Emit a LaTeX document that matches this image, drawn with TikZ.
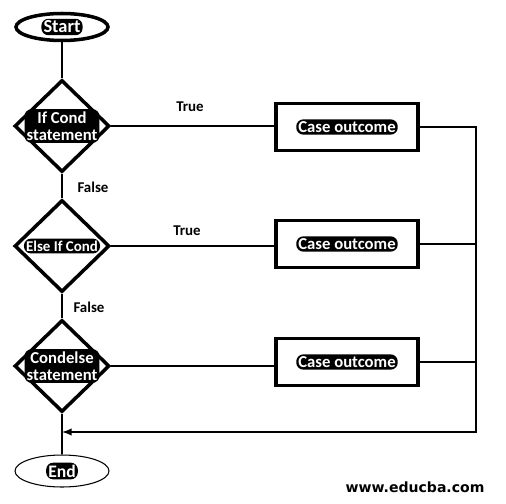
\documentclass[tikz,border=0pt]{standalone}
\usepackage{fontspec}
\setmainfont{Carlito}
\newfontfamily\wmfont{DejaVu Sans}
\usetikzlibrary{shapes.geometric}

\begin{document}
\begin{tikzpicture}[x=0.02cm,y=-0.02cm,
  decision/.style={diamond,draw,line width=2pt,inner sep=0pt,minimum width=1.9cm,minimum height=1.84cm},
  outcome/.style={rectangle,draw,line width=2pt,minimum width=2.84cm,minimum height=0.94cm},
  pill/.style={fill=black,text=white,rounded corners=4pt,inner sep=1.2pt,align=center,font=\fontsize{9.5}{10}\selectfont\bfseries},
  tag/.style={font=\fontsize{8.5}{10}\selectfont\bfseries},
  link/.style={line width=0.9pt}]
\useasboundingbox (0,0) rectangle (506,503);

\node[ellipse,draw,line width=2pt,minimum width=1.84cm,minimum height=0.54cm] (start) at (62,27) {};
\node[pill,font=\fontsize{10.5}{11}\selectfont\bfseries] (startt) at (start) {Start};
\node[decision] (d1) at (62,126) {};
\node[pill] (d1t) at (d1) {If Cond\\statement};
\node[decision] (d2) at (62,246) {};
\node[pill,font=\fontsize{8.5}{9}\selectfont\bfseries] (d2t) at (d2) {Else If Cond};
\node[decision] (d3) at (62,366) {};
\node[pill] (d3t) at (d3) {Condelse\\statement};
\node[ellipse,draw,line width=0.6pt,minimum width=1.88cm,minimum height=0.64cm] (end) at (62,471) {};
\node[pill,font=\fontsize{10}{11}\selectfont\bfseries] (endt) at (end) {End};

\node[outcome] (c1) at (347,127) {};
\node[pill] (c1t) at (c1) {Case outcome};
\node[outcome] (c2) at (347,244) {};
\node[pill] (c2t) at (c2) {Case outcome};
\node[outcome] (c3) at (347,362) {};
\node[pill] (c3t) at (c3) {Case outcome};

\node[tag] (t1) at (190,107) {True};
\node[tag] (t2) at (187,231) {True};
\node[tag] (f1) at (93,187) {False};
\node[tag] (f2) at (89,307) {False};
\node[font=\wmfont\fontsize{8}{9}\selectfont\bfseries] (wm) at (415,487) {www.educba.com};

\coordinate (merge) at (62,432);
\coordinate (rail) at (476,432);

\draw[link] (start)--(d1)--(d2)--(d3)--(end);
\draw[link] (d1.east)--(d1.east -| c1.west);
\draw[link] (d2.east)--(d2.east -| c2.west);
\draw[link] (d3.east)--(d3.east -| c3.west);
\draw[link,-latex] (c1.east) -| (rail) -- (merge);
\draw[link] (c2.east)--(c2.east -| rail);
\draw[link] (c3.east)--(c3.east -| rail);
\end{tikzpicture}
\end{document}
